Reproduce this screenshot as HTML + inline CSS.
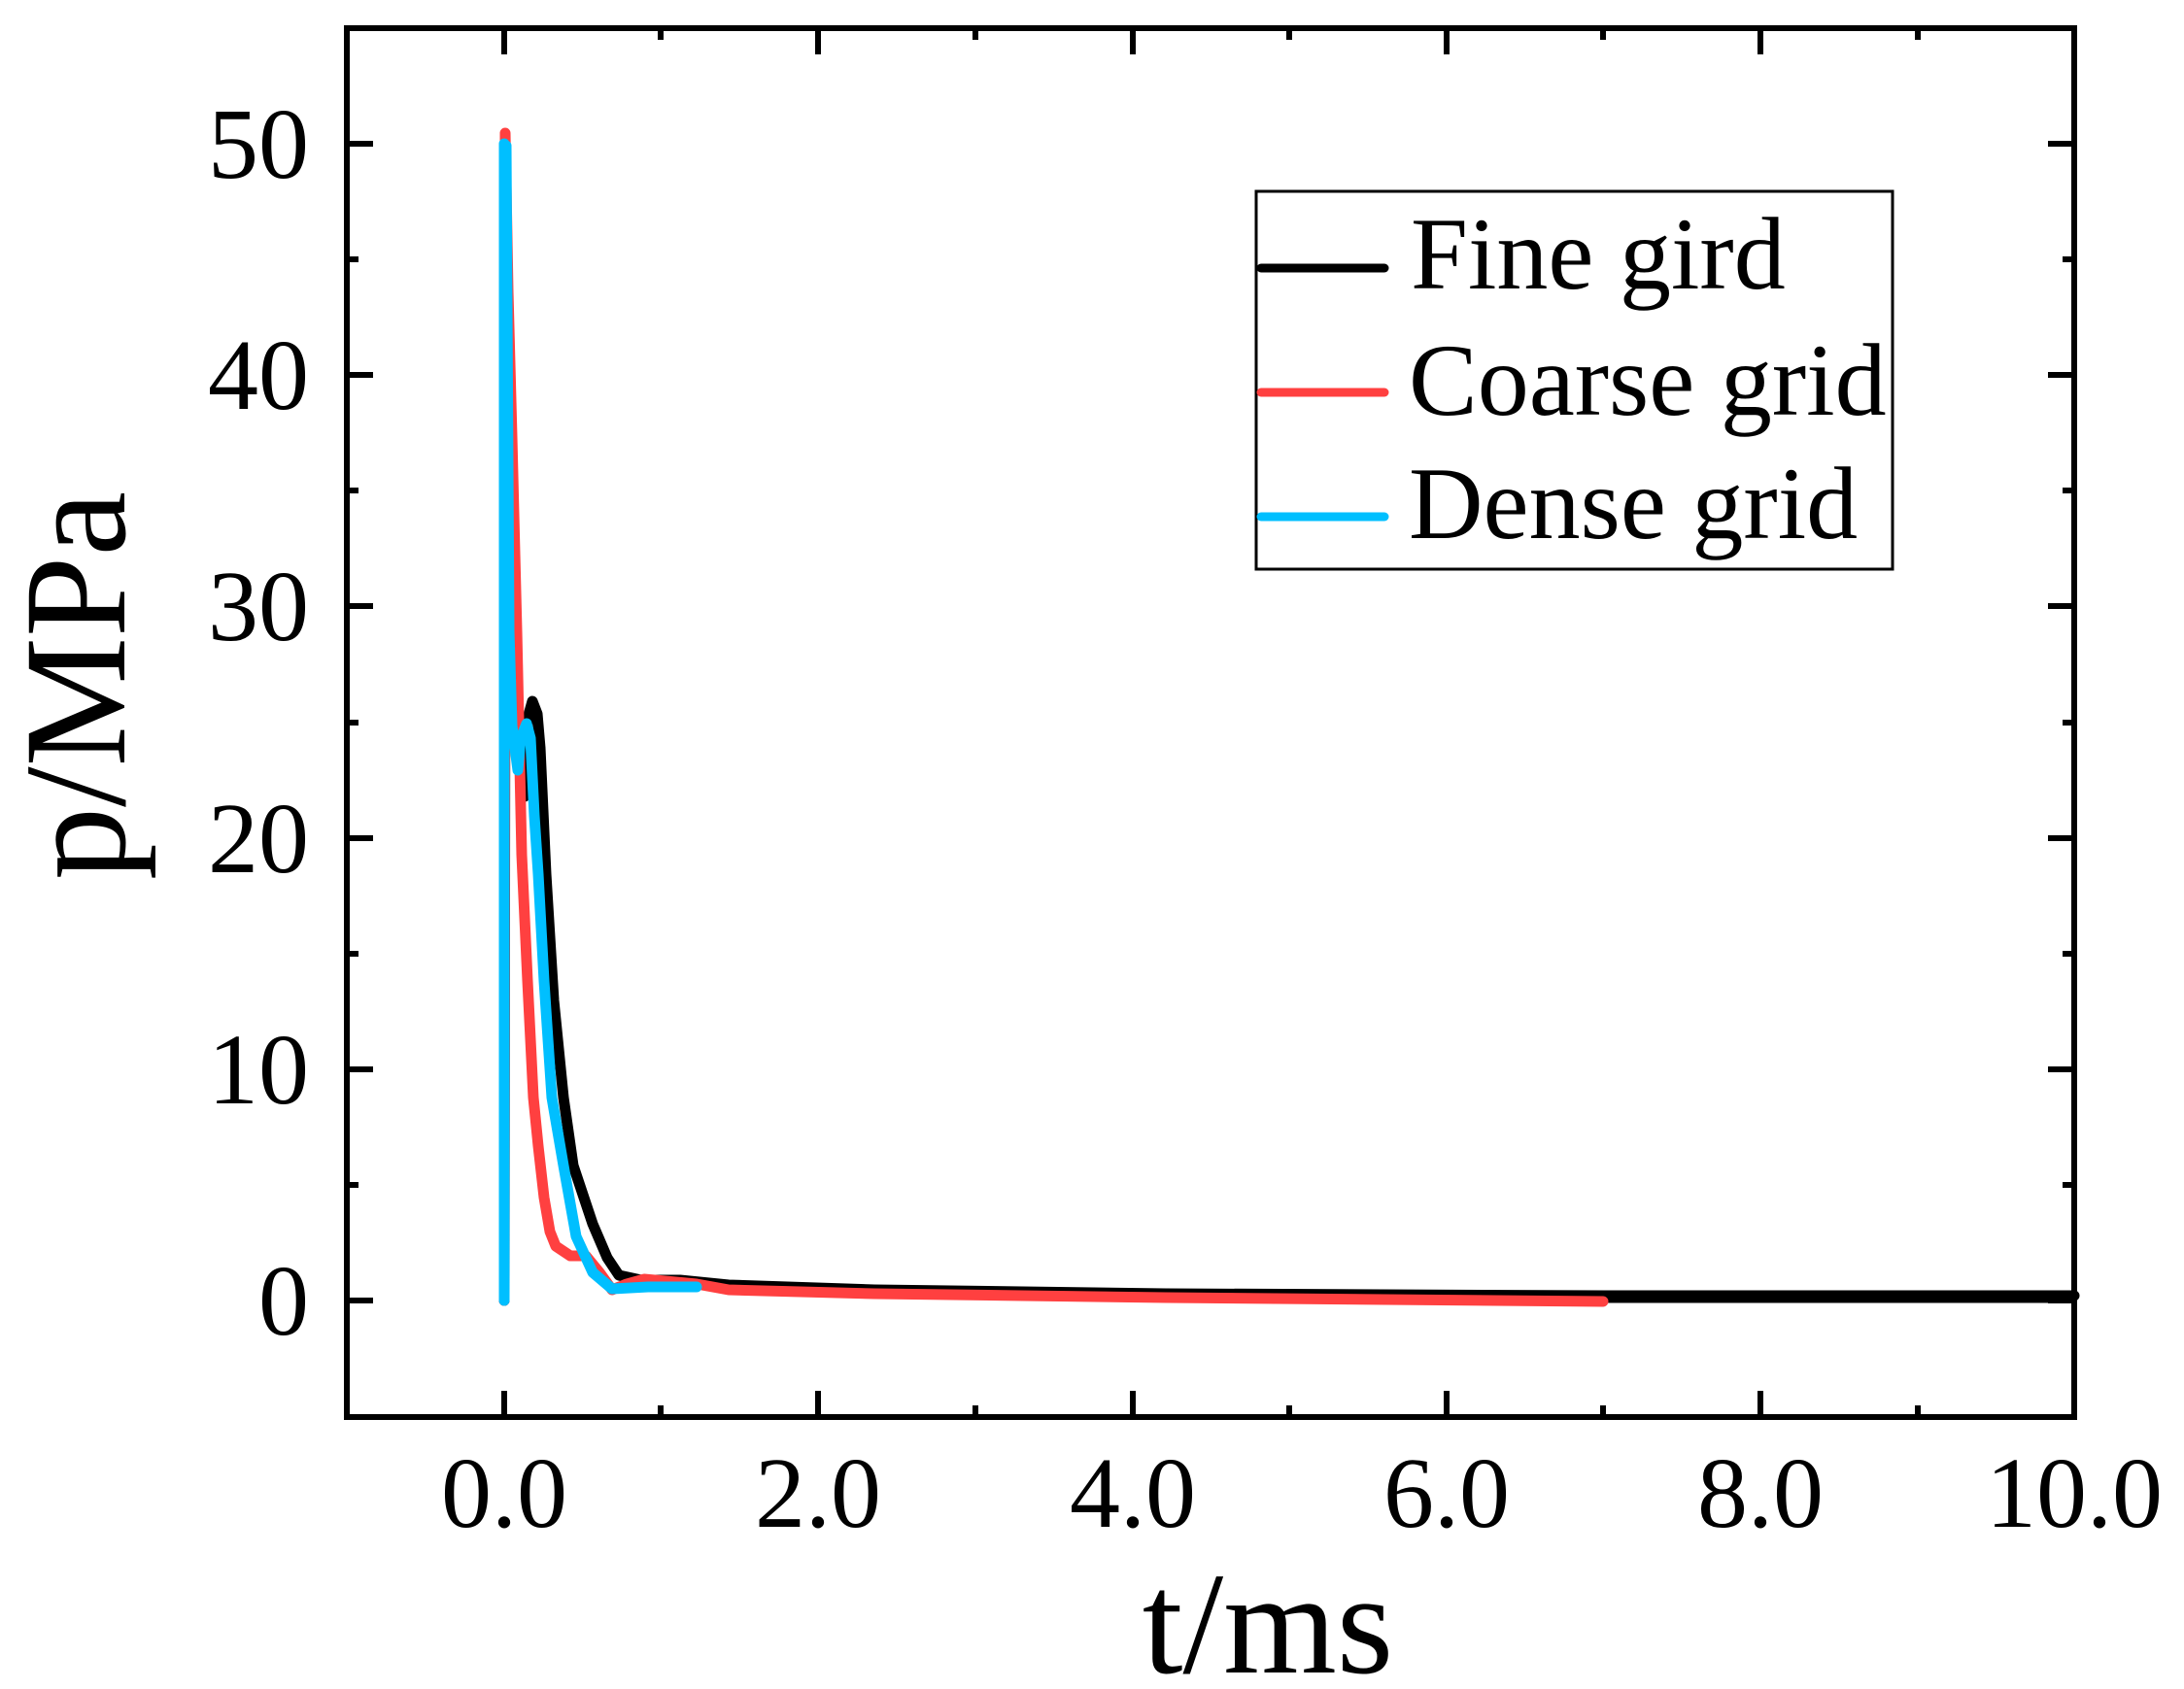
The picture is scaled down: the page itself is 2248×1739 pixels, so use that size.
<!DOCTYPE html>
<html><head><meta charset="utf-8"><style>
html,body{margin:0;padding:0;background:#fff;}
svg{display:block;}
text{font-family:"Liberation Serif","Times New Roman",serif;fill:#000;}
</style></head><body>
<svg width="2248" height="1739" viewBox="0 0 2248 1739" xmlns="http://www.w3.org/2000/svg">
<rect width="2248" height="1739" fill="#fff"/>
<g stroke="#000" stroke-width="6" fill="none">
<path d="M519,1459v-27M842,1459v-27M1166,1459v-27M1489,1459v-27M1812,1459v-27M2135,1459v-27
M357,1459v-12M680,1459v-12M1004,1459v-12M1327,1459v-12M1650,1459v-12M1974,1459v-12
M519,29v27M842,29v27M1166,29v27M1489,29v27M1812,29v27M2135,29v27
M357,29v12M680,29v12M1004,29v12M1327,29v12M1650,29v12M1974,29v12"/>
<path d="M357,1339h27M357,1101h27M357,863h27M357,624h27M357,386h27M357,148h27
M357,1220h12M357,982h12M357,744h12M357,505h12M357,267h12
M2135,1339h-27M2135,1101h-27M2135,863h-27M2135,624h-27M2135,386h-27M2135,148h-27
M2135,1220h-12M2135,982h-12M2135,744h-12M2135,505h-12M2135,267h-12"/>
</g>
<g fill="none" stroke-linejoin="round" stroke-linecap="round" stroke-width="11">
<path stroke="#000" d="M519,1339 L520,500 L524,560 L530,700 L536,790 L540,820 L543,740 L548,722 L553,735 L556,770 L562,900 L570,1030 L580,1130 L590,1200 L610,1260 L625,1295 L637,1313 L660,1318 L700,1318 L750,1323 L900,1328 L1200,1332 L1650,1334 L2135,1334"/>
<path stroke="#000" stroke-width="13" stroke-linecap="butt" d="M1650,1335 L2135,1335"/>
<path stroke="#ff4040" d="M519,1339 L520,137 L523,300 L527,450 L532,650 L537,880 L543,1010 L549,1130 L554,1180 L560,1233 L566,1268 L572,1283 L587,1293 L603,1293 L617,1310 L630,1328 L645,1322 L663,1317 L717,1322 L750,1328 L900,1332 L1200,1336 L1650,1340"/>
<path stroke="#00bfff" d="M519,1339 L519,148 M521,150 L524,650 L527,747 L533,793 L536,760 L542,745 L546,760 L550,840 L554,900 L560,1010 L568,1130 L580,1200 L593,1273 L610,1310 L630,1327 L667,1325 L717,1325"/>
</g>
<rect x="357" y="29" width="1778" height="1430" fill="none" stroke="#000" stroke-width="6"/>
<rect x="1293" y="197" width="655" height="389" fill="#fff" stroke="#000" stroke-width="3"/>
<g stroke-width="9" stroke-linecap="round">
<line x1="1298" y1="276" x2="1425" y2="276" stroke="#000"/>
<line x1="1298" y1="404" x2="1425" y2="404" stroke="#ff4040"/>
<line x1="1298" y1="532" x2="1425" y2="532" stroke="#00bfff"/>
</g>
<g font-size="106">
<text x="1452" y="297">Fine gird</text>
<text x="1450" y="427">Coarse grid</text>
<text x="1450" y="554">Dense grid</text>
</g>
<g font-size="104" text-anchor="middle">
<text x="519" y="1572">0.0</text>
<text x="842" y="1572">2.0</text>
<text x="1166" y="1572">4.0</text>
<text x="1489" y="1572">6.0</text>
<text x="1812" y="1572">8.0</text>
<text x="2135" y="1572">10.0</text>
</g>
<g font-size="104" text-anchor="end">
<text x="318" y="1374">0</text>
<text x="318" y="1136">10</text>
<text x="318" y="898">20</text>
<text x="318" y="659">30</text>
<text x="318" y="421">40</text>
<text x="318" y="183">50</text>
</g>
<text x="1305" y="1722" font-size="150" text-anchor="middle">t/ms</text>
<text transform="translate(128,706) rotate(-90)" font-size="150" text-anchor="middle">p/MPa</text>
</svg>
</body></html>
